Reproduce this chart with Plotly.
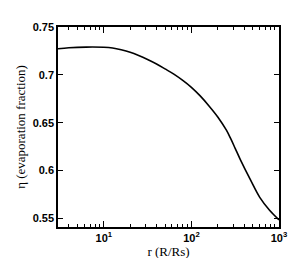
import plotly.graph_objects as go

# Data
r_vals = [3.0, 4.0, 6.3, 10.0, 12.6, 15.8, 20.0, 25.0, 31.6, 40.0, 50.0, 63.0, 79.0, 100.0, 126.0, 158.0,
          200.0, 251.0, 282.0, 316.0, 363.0, 468.0, 603.0, 776.0, 1000.0]
eta_vals = [0.7272, 0.7283, 0.7290, 0.7288, 0.7280, 0.7262, 0.7236, 0.7202, 0.7160, 0.7113, 0.7062, 0.7008,
            0.6945, 0.6870, 0.6780, 0.6678, 0.6560, 0.6422, 0.6330, 0.6232, 0.6112, 0.5910, 0.5720, 0.5588, 0.5485]

x_major = [10, 100, 1000]
x_major_text = ["10<sup>1</sup>", "10<sup>2</sup>", "10<sup>3</sup>"]
x_minor = [3, 4, 5, 6, 7, 8, 9, 20, 30, 40, 50, 60, 70, 80, 90, 200, 300, 400, 500, 600, 700, 800, 900]
y_ticks = [0.55, 0.6, 0.65, 0.7, 0.75]
y_text = ["0.55", "0.6", "0.65", "0.7", "0.75"]

fig = go.Figure()
fig.add_trace(go.Scatter(x=r_vals, y=eta_vals, mode="lines",
                         line=dict(color="black", width=1.6, shape="spline", smoothing=1.0),
                         showlegend=False))

tickfont = dict(family="Liberation Sans", size=11, color="black", weight="bold")
titlefont = dict(family="Liberation Serif", size=13, color="black")

fig.update_layout(
    width=299, height=258,
    margin=dict(l=42, r=28, t=19, b=31),
    paper_bgcolor="white", plot_bgcolor="white",
    xaxis=dict(type="log", range=[0.4771, 3.0], tickmode="array", tickvals=x_major, ticktext=x_major_text,
               ticks="inside", ticklen=6, tickwidth=1, tickcolor="black",
               minor=dict(tickmode="array", tickvals=x_minor, ticks="inside", ticklen=3, tickcolor="black", showgrid=False),
               showline=True, linecolor="black", linewidth=1.5, mirror="ticks", showgrid=False, zeroline=False,
               tickfont=tickfont, title=dict(text="r (R/Rs)", font=titlefont, standoff=1)),
    yaxis=dict(range=[0.541, 0.75], tickmode="array", tickvals=y_ticks, ticktext=y_text,
               ticks="inside", ticklen=5, tickwidth=1, tickcolor="black",
               showline=True, linecolor="black", linewidth=1.5, mirror="ticks", showgrid=False, zeroline=False,
               tickfont=tickfont, title=dict(text="η (evaporation fraction)", font=titlefont, standoff=4)),
)

fig.write_html("out.html")
